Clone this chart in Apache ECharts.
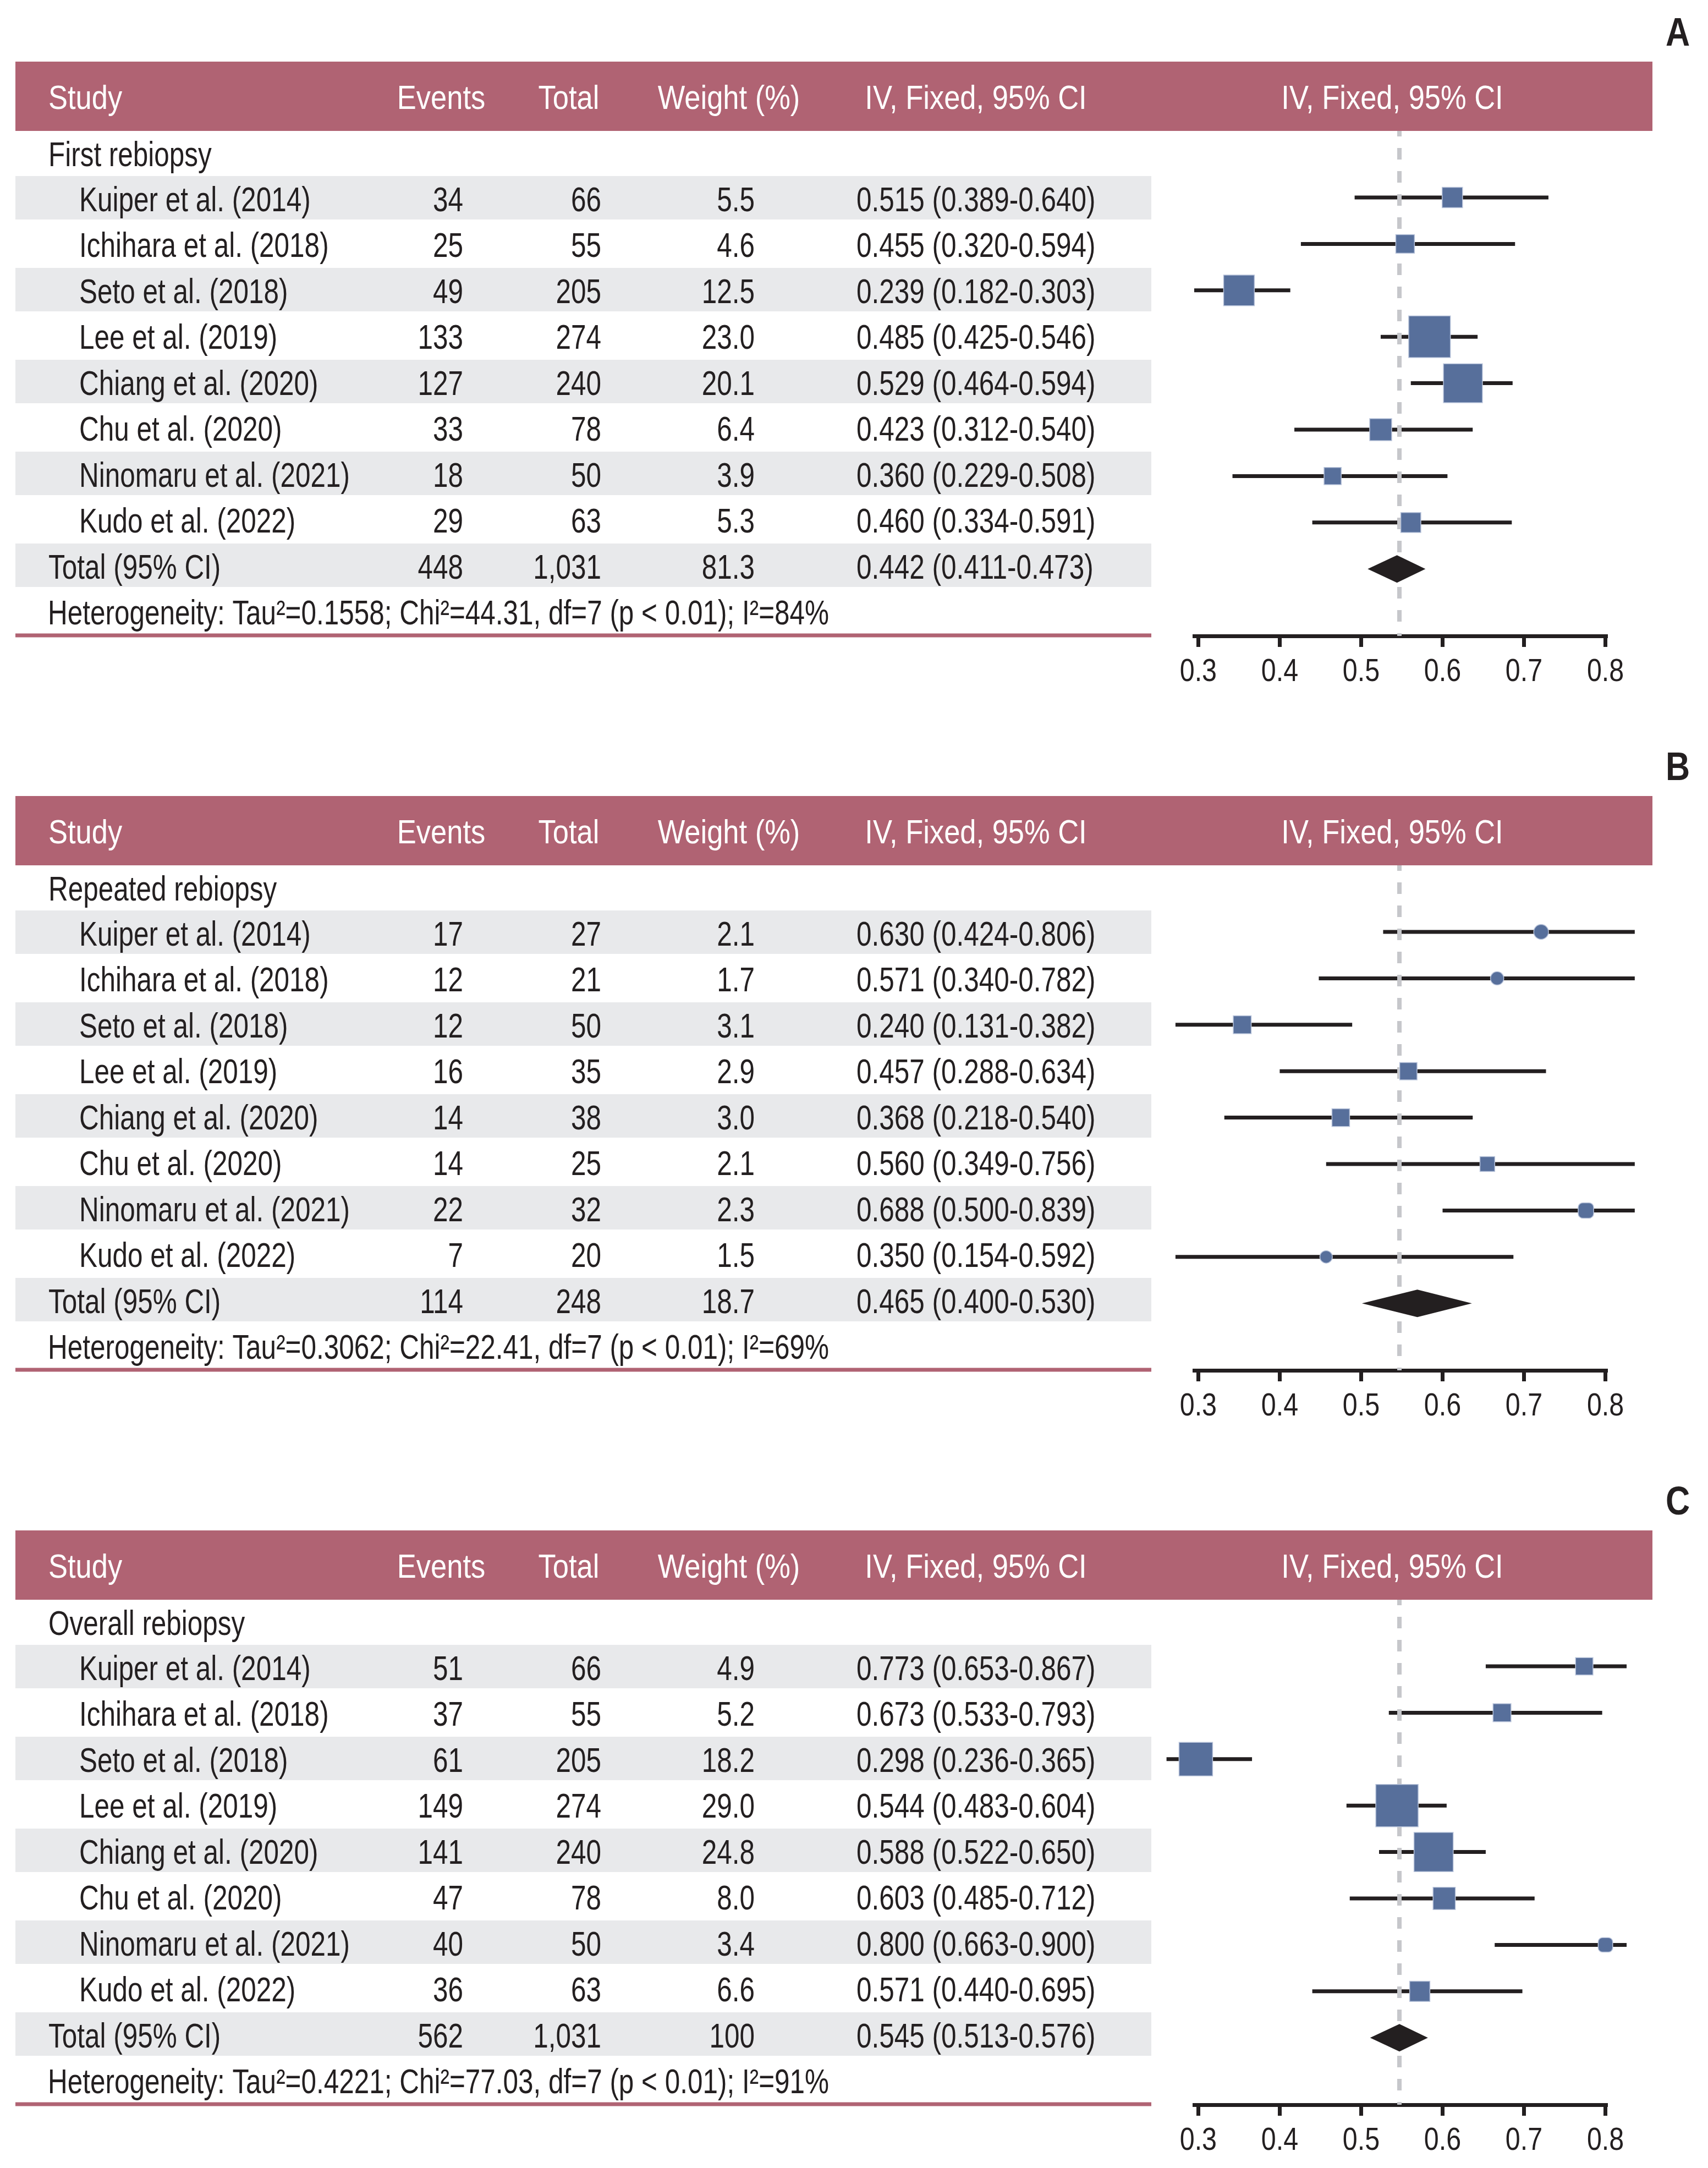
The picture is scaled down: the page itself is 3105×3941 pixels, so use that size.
<!DOCTYPE html>
<html><head><meta charset="utf-8">
<script src="https://cdn.jsdelivr.net/npm/echarts@6/dist/echarts.min.js"></script>
<style>html,body{margin:0;padding:0;background:#fff}#c{width:3105px;height:3941px}</style>
</head><body><div id="c"></div>
<script>
// ---------- DATA ----------
const studies = ['Kuiper et al. (2014)', 'Ichihara et al. (2018)', 'Seto et al. (2018)', 'Lee et al. (2019)', 'Chiang et al. (2020)', 'Chu et al. (2020)', 'Ninomaru et al. (2021)', 'Kudo et al. (2022)'];
const totalLabel = 'Total (95% CI)';
const panelLetters = ['A', 'B', 'C'];
const subgroups = ['First rebiopsy', 'Repeated rebiopsy', 'Overall rebiopsy'];
const columnHeaders = ['Study', 'Events', 'Total', 'Weight (%)', 'IV, Fixed, 95% CI', 'IV, Fixed, 95% CI'];
const xTicks = [0.3, 0.4, 0.5, 0.6, 0.7, 0.8];
const xTickLabels = ['0.3', '0.4', '0.5', '0.6', '0.7', '0.8'];

// table values (last entry = total)
const eventsA = [34, 25, 49, 133, 127, 33, 18, 29, 448];
const totalsA = [66, 55, 205, 274, 240, 78, 50, 63, 1031];
const weightA = [5.5, 4.6, 12.5, 23.0, 20.1, 6.4, 3.9, 5.3, 81.3];
const estA = [0.515, 0.455, 0.239, 0.485, 0.529, 0.423, 0.360, 0.460, 0.442];
const lowA = [0.389, 0.320, 0.182, 0.425, 0.464, 0.312, 0.229, 0.334, 0.411];
const highA = [0.640, 0.594, 0.303, 0.546, 0.594, 0.540, 0.508, 0.591, 0.473];

const eventsB = [17, 12, 12, 16, 14, 14, 22, 7, 114];
const totalsB = [27, 21, 50, 35, 38, 25, 32, 20, 248];
const weightB = [2.1, 1.7, 3.1, 2.9, 3.0, 2.1, 2.3, 1.5, 18.7];
const estB = [0.630, 0.571, 0.240, 0.457, 0.368, 0.560, 0.688, 0.350, 0.465];
const lowB = [0.424, 0.340, 0.131, 0.288, 0.218, 0.349, 0.500, 0.154, 0.400];
const highB = [0.806, 0.782, 0.382, 0.634, 0.540, 0.756, 0.839, 0.592, 0.530];

const eventsC = [51, 37, 61, 149, 141, 47, 40, 36, 562];
const totalsC = [66, 55, 205, 274, 240, 78, 50, 63, 1031];
const weightC = [4.9, 5.2, 18.2, 29.0, 24.8, 8.0, 3.4, 6.6, 100];
const estC = [0.773, 0.673, 0.298, 0.544, 0.588, 0.603, 0.800, 0.571, 0.545];
const lowC = [0.653, 0.533, 0.236, 0.483, 0.522, 0.485, 0.663, 0.440, 0.513];
const highC = [0.867, 0.793, 0.365, 0.604, 0.650, 0.712, 0.900, 0.695, 0.576];

const heteroTexts = [
  'Heterogeneity: Tau\u00b2=0.1558; Chi\u00b2=44.31, df=7 (p < 0.01); I\u00b2=84%',
  'Heterogeneity: Tau\u00b2=0.3062; Chi\u00b2=22.41, df=7 (p < 0.01); I\u00b2=69%',
  'Heterogeneity: Tau\u00b2=0.4221; Chi\u00b2=77.03, df=7 (p < 0.01); I\u00b2=91%'
];

// plotted positions as drawn in the figure
const plotMidA = [0.612, 0.554, 0.350, 0.584, 0.625, 0.524, 0.465, 0.561];
const plotLowA = [0.492, 0.426, 0.295, 0.524, 0.561, 0.418, 0.342, 0.440];
const plotHighA = [0.730, 0.689, 0.413, 0.643, 0.686, 0.637, 0.606, 0.685];
const diamondA = [0.508, 0.544, 0.579];

const plotMidB = [0.721, 0.667, 0.354, 0.558, 0.475, 0.655, 0.776, 0.457];
const plotLowB = [0.527, 0.448, 0.272, 0.400, 0.332, 0.457, 0.600, 0.272];
const plotHighB = [0.836, 0.836, 0.489, 0.727, 0.637, 0.836, 0.836, 0.687];
const diamondB = [0.501, 0.569, 0.636];

const plotMidC = [0.774, 0.673, 0.297, 0.544, 0.589, 0.602, 0.800, 0.572];
const plotLowC = [0.653, 0.534, 0.261, 0.482, 0.522, 0.486, 0.664, 0.440];
const plotHighC = [0.826, 0.796, 0.366, 0.605, 0.653, 0.713, 0.826, 0.698];
const diamondC = [0.511, 0.547, 0.582];

const refLine = [0.547, 0.547, 0.547];

// ---------- STYLE / LAYOUT ----------
const FONT = '"Liberation Sans", Arial, sans-serif';
const INK = '#231f20';
const HEAD = '#b06373';
const BAND = '#e8e9eb';
const BOX = '#576f9b';
const FS = 63, SX = 0.785;       // body text
const HFS = 61, HSX = 0.86;      // header text
const PANEL_OFF = 1335;
const sizeK = [15.8, 18.5, 14.3];
const shapeStyle = [
  ['r','r','r','r','r','r','r','r'],
  ['c','c','r','r','r','r','q','c'],
  ['r','r','r','r','r','r','q','r']
];

const panels = [
  {ev: eventsA, tot: totalsA, w: weightA, est: estA, lo: lowA, hi: highA, pm: plotMidA, pl: plotLowA, ph: plotHighA, dia: diamondA},
  {ev: eventsB, tot: totalsB, w: weightB, est: estB, lo: lowB, hi: highB, pm: plotMidB, pl: plotLowB, ph: plotHighB, dia: diamondB},
  {ev: eventsC, tot: totalsC, w: weightC, est: estC, lo: lowC, hi: highC, pm: plotMidC, pl: plotLowC, ph: plotHighC, dia: diamondC}
];

const fmtInt = v => v.toLocaleString('en-US');
const fmtW = v => (v === 100 ? '100' : v.toFixed(1));
const fmtCI = (e, l, h) => e.toFixed(3) + ' (' + l.toFixed(3) + '-' + h.toFixed(3) + ')';

function txt(text, x, y, align, opts) {
  opts = opts || {};
  return {
    type: 'text', x: x, y: y, z: 5, silent: true,
    scaleX: opts.sx || SX, scaleY: 1,
    style: {
      text: text, fill: opts.fill || INK, fontSize: opts.size || FS,
      fontFamily: FONT, fontWeight: opts.weight || 'normal',
      align: align, verticalAlign: 'middle'
    }
  };
}
function htxt(text, x, y, align) {
  return txt(text, x, y, align, {fill: '#ffffff', size: HFS, sx: HSX});
}
function rect(x, y, w, h, fill, z) {
  return {type: 'rect', silent: true, z: z || 1, shape: {x: x, y: y, width: w, height: h}, style: {fill: fill}};
}

const graphics = [];
const grids = [], xAxes = [], yAxes = [], series = [];
const Y_MIN = -1.434, Y_MAX = 9.443;

panels.forEach((P, p) => {
  const off = PANEL_OFF * p;
  const ty = i => 359.5 + 83.5 * i + off;
  // header
  graphics.push(rect(28, 112 + off, 2976, 126, HEAD, 1));
  const hy = 181 + off;
  graphics.push(htxt(columnHeaders[0], 88, hy, 'left'));
  graphics.push(htxt(columnHeaders[1], 802, hy, 'center'));
  graphics.push(htxt(columnHeaders[2], 1034, hy, 'center'));
  graphics.push(htxt(columnHeaders[3], 1325, hy, 'center'));
  graphics.push(htxt(columnHeaders[4], 1774, hy, 'center'));
  graphics.push(htxt(columnHeaders[5], 2531, hy, 'center'));
  graphics.push(txt(panelLetters[p], 3050, 63 + off, 'center', {weight: 'bold', size: 72, sx: 0.85}));
  graphics.push(txt(subgroups[p], 88, ty(-1) + 9, 'left'));
  for (let i = 0; i < 9; i++) {
    const y = ty(i);
    if (i % 2 === 0) graphics.push(rect(28, y - 39.5, 2065, 79, BAND, 1));
    const yt = y + 7;
    graphics.push(txt(i < 8 ? studies[i] : totalLabel, i < 8 ? 144 : 88, yt, 'left'));
    graphics.push(txt(fmtInt(P.ev[i]), 842, yt, 'right'));
    graphics.push(txt(fmtInt(P.tot[i]), 1093, yt, 'right'));
    graphics.push(txt(fmtW(P.w[i]), 1372, yt, 'right'));
    graphics.push(txt(fmtCI(P.est[i], P.lo[i], P.hi[i]), 1557, yt, 'left'));
  }
  graphics.push(txt(heteroTexts[p], 87, ty(9) + 7, 'left'));
  graphics.push(rect(28, 1151.5 + off, 2065, 7, HEAD, 1));

  // plot grid
  grids.push({left: 2168, width: 755, top: 238 + off, height: 918, containLabel: false});
  xAxes.push({
    gridIndex: p, type: 'value', min: 0.293, max: 0.803,
    axisLine: {show: true, onZero: false, lineStyle: {color: INK, width: 7, cap: 'butt'}},
    axisTick: {show: true, customValues: xTicks, length: 20, lineStyle: {color: INK, width: 7}},
    axisLabel: {show: false},
    splitLine: {show: false}
  });
  yAxes.push({gridIndex: p, type: 'value', inverse: true, min: Y_MIN, max: Y_MAX, show: false});

  // tick labels placed through the axis scale
  series.push({
    type: 'custom', xAxisIndex: p, yAxisIndex: p, clip: false, z: 6, silent: true,
    data: xTicks.map(v => [v]),
    renderItem: (params, api) => {
      const c = api.coord([api.value(0), Y_MAX]);
      return {type: 'text', x: c[0], y: c[1] + 66, scaleX: 0.85,
        style: {text: xTickLabels[params.dataIndex], fill: INK, fontSize: 57, fontFamily: FONT, align: 'center', verticalAlign: 'middle'}};
    }
  });

  const whiskerData = P.pm.map((m, i) => [P.pl[i], P.ph[i], i]);
  series.push({
    type: 'custom', xAxisIndex: p, yAxisIndex: p, clip: false, z: 2, silent: true,
    data: whiskerData,
    renderItem: (params, api) => {
      const a = api.coord([api.value(0), api.value(2)]);
      const b = api.coord([api.value(1), api.value(2)]);
      return {type: 'line', shape: {x1: a[0], y1: a[1], x2: b[0], y2: b[1]}, style: {stroke: INK, lineWidth: 7}};
    }
  });
  series.push({
    type: 'line', xAxisIndex: p, yAxisIndex: p, z: 3, silent: true, symbol: 'none',
    data: [[refLine[p], Y_MIN], [refLine[p], Y_MAX]],
    lineStyle: {color: '#c6c7cb', width: 8, type: [21, 21], dashOffset: 11, cap: 'butt'}
  });
  const markerData = P.pm.map((m, i) => [m, i, P.w[i]]);
  series.push({
    type: 'custom', xAxisIndex: p, yAxisIndex: p, clip: false, z: 4, silent: true,
    data: markerData,
    renderItem: (params, api) => {
      const c = api.coord([api.value(0), api.value(1)]);
      const s = sizeK[p] * Math.sqrt(api.value(2));
      const sh = shapeStyle[p][params.dataIndex];
      const r = sh === 'c' ? s / 2 : (sh === 'q' ? s * 0.3 : 0);
      return {type: 'rect', shape: {x: c[0] - s / 2, y: c[1] - s / 2, width: s, height: s, r: r},
        style: {fill: BOX, stroke: '#b8c3da', lineWidth: 1.5}};
    }
  });
  series.push({
    type: 'custom', xAxisIndex: p, yAxisIndex: p, clip: false, z: 5, silent: true,
    data: [[P.dia[0], P.dia[1], P.dia[2], 8]],
    renderItem: (params, api) => {
      const l = api.coord([api.value(0), api.value(3)]);
      const m = api.coord([api.value(1), api.value(3)]);
      const h = api.coord([api.value(2), api.value(3)]);
      const hh = 25;
      return {type: 'polygon', shape: {points: [[l[0], l[1]], [m[0], m[1] - hh], [h[0], h[1]], [m[0], m[1] + hh]]},
        style: {fill: INK}};
    }
  });
});

const chart = echarts.init(document.getElementById('c'), null, {renderer: 'canvas'});
chart.setOption({
  backgroundColor: '#ffffff',
  animation: false,
  grid: grids, xAxis: xAxes, yAxis: yAxes, series: series,
  graphic: {elements: graphics}
});
</script>
</body></html>
